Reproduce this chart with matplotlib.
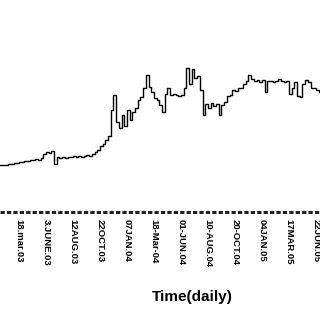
import matplotlib
matplotlib.use("Agg")
import matplotlib.pyplot as plt

# weekly samples of the series
values = [47, 47, 47, 48, 48, 49, 49, 50, 50, 51,
          51, 52, 52, 53, 52, 54, 58, 60, 59, 61,
          48, 55, 54, 55, 54, 55, 55, 56, 55, 56,
          55, 56, 57, 56, 58, 60, 62, 66, 68, 72,
          76, 102, 117, 90, 84, 97, 86, 102, 92, 100,
          104, 112, 115, 124, 137, 125, 120, 114, 112, 107,
          100, 118, 124, 117, 118, 117, 116, 117, 124, 144,
          128, 143, 134, 136, 122, 97, 108, 104, 109, 106,
          108, 97, 107, 110, 116, 117, 122, 121, 124, 124,
          128, 131, 137, 133, 131, 132, 130, 132, 120, 131,
          131, 130, 131, 133, 131, 130, 131, 118, 124, 130,
          116, 115, 128, 132, 130, 124, 124, 122, 120, 120]

tick_pos = [7, 17, 27, 37, 47, 57, 67, 77, 87, 97, 107, 117]
tick_labels = ["18.mar.03", "3.JUNE.03", "12AUG.03", "22OCT.03", "07JAN.04",
               "18-Mar-04", "01-JUN.04", "10-AUG.04", "20-OCT.04", "04JAN.05",
               "17MAR.05", "22JUN.05"]

fig = plt.figure(figsize=(3.2, 3.2), dpi=100)
ax = fig.add_axes([0, 108 / 320, 1, 212 / 320])

x = list(range(len(values)))
ax.plot(x, values, color="black", linewidth=1.0, drawstyle="steps-post")

ax.set_xlim(0, 118.5)
ax.set_ylim(0, 212)

for side in ["left", "top", "right"]:
    ax.spines[side].set_visible(False)
ax.spines["bottom"].set_visible(False)
# dashed axis line, like the original
ax.axhline(0, color="#222222", linewidth=2.2, dashes=(1.4, 0.7),
           clip_on=False)

ax.set_yticks([])
ax.set_xticks(tick_pos)
ax.set_xticklabels(tick_labels, rotation=-90, fontsize=6.8,
                   fontfamily="Liberation Sans", fontweight="bold", va="top")
ax.tick_params(axis="x", length=0, pad=5)

fig.text(0.6, 0.072, "Time(daily)", ha="center", va="center",
         fontsize=11, fontweight="bold", fontfamily="Liberation Sans")

fig.savefig("out.png", dpi=100)
